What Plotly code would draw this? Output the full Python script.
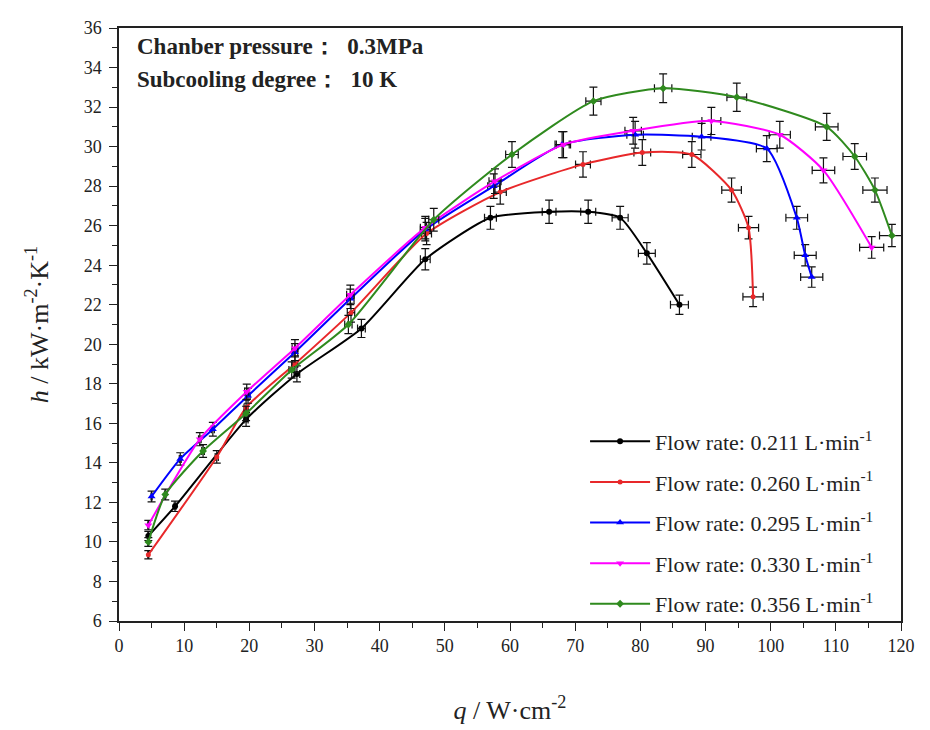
import plotly.graph_objects as go

# Flow rate 0.211 L/min
q_211 = [4.5, 8.6, 19.5, 27.3, 37.2, 47.0, 57.0, 66.0, 72.0, 76.9, 81.0, 86.0]
h_211 = [10.3, 11.8, 16.2, 18.5, 20.8, 24.3, 26.4, 26.7, 26.7, 26.4, 24.6, 22.0]
# Flow rate 0.260 L/min
q_260 = [4.5, 15.0, 19.5, 27.0, 35.6, 47.2, 58.5, 71.2, 80.3, 87.9, 94.0, 96.6, 97.3]
h_260 = [9.35, 14.3, 16.8, 19.0, 21.6, 25.6, 27.7, 29.1, 29.7, 29.6, 27.8, 25.9, 22.4]
# Flow rate 0.295 L/min
q_295 = [5.0, 9.4, 14.4, 19.8, 27.0, 35.5, 47.0, 57.5, 68.0, 79.2, 89.4, 99.4, 104.0, 105.3, 106.3]
h_295 = [12.3, 14.2, 15.7, 17.4, 19.6, 22.3, 25.8, 28.0, 30.1, 30.6, 30.5, 29.9, 26.4, 24.5, 23.4]
# Flow rate 0.330 L/min
q_330 = [4.5, 12.4, 19.6, 27.0, 35.5, 47.0, 57.7, 68.2, 78.9, 90.9, 101.4, 108.1, 115.5]
h_330 = [10.85, 15.2, 17.6, 19.8, 22.5, 25.9, 28.25, 30.1, 30.8, 31.3, 30.6, 28.8, 24.9]
# Flow rate 0.356 L/min
q_356 = [4.5, 7.1, 12.9, 19.5, 26.5, 35.2, 48.3, 60.3, 72.8, 83.5, 94.8, 108.6, 112.9, 116.0, 118.6]
h_356 = [10.0, 12.4, 14.6, 16.5, 18.7, 21.0, 26.3, 29.6, 32.3, 32.95, 32.5, 31.0, 29.5, 27.8, 25.5]

series_names = ["Flow rate: 0.211 L·min<sup>-1</sup>", "Flow rate: 0.260 L·min<sup>-1</sup>",
                "Flow rate: 0.295 L·min<sup>-1</sup>", "Flow rate: 0.330 L·min<sup>-1</sup>",
                "Flow rate: 0.356 L·min<sup>-1</sup>"]
x_ticks = list(range(0, 121, 10))
y_ticks = list(range(6, 37, 2))

colors = ["#000000", "#e8282a", "#0000ff", "#ff00ff", "#2f8a1e"]
symbols = ["circle", "circle", "triangle-up", "triangle-down", "diamond"]
sizes = [6, 5, 7, 7, 6]
datasets = [(q_211, h_211), (q_260, h_260), (q_295, h_295), (q_330, h_330), (q_356, h_356)]

fig = go.Figure()
for i, ((qx, hy), name, c, s, sz) in enumerate(zip(datasets, series_names, colors, symbols, sizes)):
    fig.add_trace(go.Scatter(
        x=qx, y=hy, name=name, mode="lines+markers", legendgroup=f"g{i}",
        line=dict(color=c, width=2, shape="spline", smoothing=0.6),
        marker=dict(color=c, symbol=s, size=sz),
        error_y=dict(type="percent", value=2.2, color="#111111", thickness=1.2, width=4),
        error_x=dict(type="percent", value=1.6, color="#111111", thickness=1.2, width=4),
    ))

font_serif = "Liberation Serif, Times New Roman, serif"

fig.update_layout(
    width=922, height=722,
    margin=dict(l=111, r=29, t=10, b=102),
    paper_bgcolor="white", plot_bgcolor="white",
    font=dict(family=font_serif, size=18, color="#222"),
    legend=dict(x=0.596, y=0.338, xanchor="left", yanchor="top",
                bgcolor="rgba(255,255,255,0)", font=dict(size=22, family=font_serif, color="#222"),
                tracegroupgap=9, itemwidth=60),
    showlegend=True,
)
fig.update_xaxes(
    range=[0, 120], tickvals=x_ticks, showgrid=False, zeroline=False,
    showline=True, linecolor="#222", linewidth=1.5, mirror=True,
    ticks="outside", ticklen=8, tickwidth=1.3, tickcolor="#222",
    minor=dict(dtick=5, ticks="outside", ticklen=5, tickwidth=1, tickcolor="#222"),
    tickfont=dict(size=18, family=font_serif),
    title=dict(text="<i>q</i> / W·cm<sup>-2</sup>", font=dict(size=26, family=font_serif), standoff=45),
)
fig.update_yaxes(
    range=[6, 36], tickvals=y_ticks, showgrid=False, zeroline=False,
    showline=True, linecolor="#222", linewidth=1.5, mirror=True,
    ticks="outside", ticklen=8, tickwidth=1.3, tickcolor="#222",
    minor=dict(dtick=1, ticks="outside", ticklen=5, tickwidth=1, tickcolor="#222"),
    tickfont=dict(size=18, family=font_serif), ticklabelstandoff=4,
    title=dict(text="<i>h</i> / kW·m<sup>-2</sup>·K<sup>-1</sup>", font=dict(size=26, family=font_serif), standoff=28),
)
fig.add_annotation(x=0.02, y=0.994, xref="paper", yref="paper", xanchor="left", yanchor="top",
                   text="<b>Chanber pressure：  0.3MPa</b>", showarrow=False,
                   font=dict(size=23, family=font_serif, color="#222"))
fig.add_annotation(x=0.02, y=0.937, xref="paper", yref="paper", xanchor="left", yanchor="top",
                   text="<b>Subcooling degree：  10 K</b>", showarrow=False,
                   font=dict(size=23, family=font_serif, color="#222"))

fig.write_html("out.html")
